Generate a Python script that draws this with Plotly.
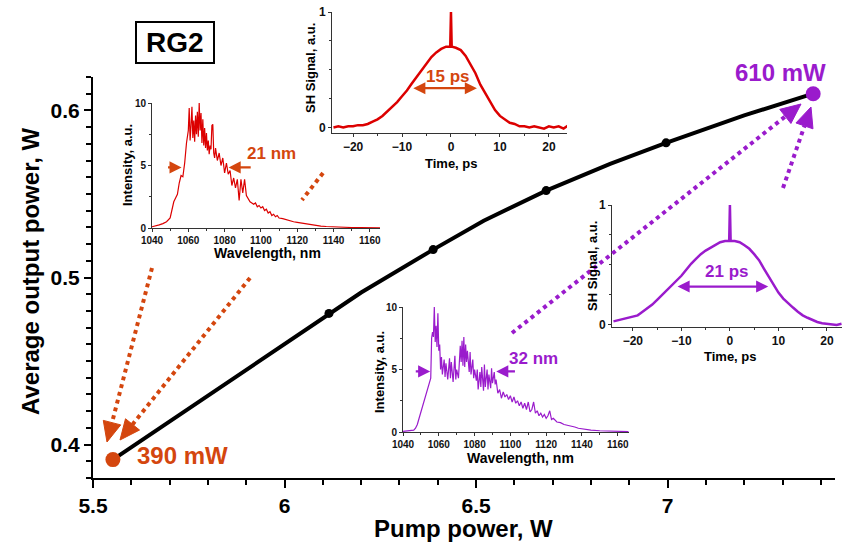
import math
import plotly.graph_objects as go

W, H = 842, 546
FONT = "Liberation Sans, Arial, sans-serif"
ORANGE = "#d4460e"
RED = "#dc0000"
PURPLE = "#9a1bcc"

# ---------------- main curve ----------------
pump_w = [5.552, 6.116, 6.2, 6.388, 6.52, 6.683, 6.85, 6.996, 7.2, 7.38]
output_w = [0.391, 0.4785, 0.491, 0.5167, 0.534, 0.552, 0.568, 0.5806, 0.597, 0.610]
dots_pump = [6.116, 6.388, 6.683, 6.996]
dots_out = [0.4785, 0.5167, 0.552, 0.5806]
start_pt = (5.552, 0.391)
end_pt = (7.38, 0.610)

# ---------------- spectrum, 390 mW (red) ----------------
wl_a = [1040, 1042, 1044, 1046, 1048, 1050, 1051, 1052, 1053, 1054, 1055, 1056, 1057, 1058, 1059, 1060,
        1060.5, 1061, 1061.5, 1062, 1062.5, 1063, 1063.5, 1064, 1064.5, 1065, 1065.5, 1066, 1066.5, 1067,
        1067.5, 1068, 1068.5, 1069, 1069.5, 1070, 1070.5, 1071, 1071.5, 1072, 1072.5, 1073, 1073.5, 1074,
        1074.5, 1075, 1076, 1077, 1078, 1079, 1080, 1081, 1082, 1083, 1084, 1085, 1086, 1087, 1088, 1089,
        1090, 1091, 1092, 1093, 1094, 1095, 1096, 1097, 1098, 1099, 1100, 1101, 1102, 1103, 1104, 1105,
        1106, 1107, 1108, 1109, 1110, 1112, 1114, 1116, 1118, 1120, 1122, 1124, 1126, 1128, 1130, 1133,
        1136, 1140, 1145, 1150, 1155, 1160, 1166]
int_a = [0.1, 0.15, 0.25, 0.35, 0.5, 0.8, 1.4, 2.1, 2.4, 2.7, 3.6, 4.2, 4.1, 5.2, 6.8, 7.8,
         9.6, 7.0, 8.2, 9.7, 7.2, 8.6, 6.9, 9.0, 7.5, 9.3, 7.3, 10.0, 7.8, 9.2,
         6.8, 8.7, 6.6, 8.0, 6.4, 7.6, 6.2, 7.0, 5.9, 6.6, 6.3, 8.2, 8.3, 6.0,
         5.6, 6.4, 5.4, 6.0, 5.0, 5.6, 4.4, 5.2, 4.3, 4.6, 3.4, 4.0, 3.2, 3.9, 2.2, 3.9,
         2.8, 3.9, 2.6, 2.3, 2.1, 2.0, 1.9, 2.0, 1.7, 1.8, 1.6, 1.7, 1.4, 1.5, 1.2, 1.3,
         1.0, 1.1, 0.9, 1.0, 0.8, 0.75, 0.65, 0.55, 0.5, 0.45, 0.4, 0.35, 0.3, 0.25, 0.2, 0.15,
         0.12, 0.08, 0.05, 0.04, 0.03, 0.02, 0.02]

# ---------------- spectrum, 610 mW (purple) ----------------
wl_b = [1040, 1042, 1044, 1046, 1047, 1048, 1049, 1050, 1051, 1052, 1053, 1054, 1055, 1055.5, 1056, 1056.5,
        1057, 1057.5, 1058, 1058.5, 1059, 1059.5, 1060, 1060.5, 1061, 1061.5, 1062, 1063, 1063.5, 1064,
        1065, 1066, 1066.5, 1067, 1068, 1069, 1069.5, 1070, 1071, 1071.5, 1072, 1072.5, 1073, 1073.5,
        1074, 1074.5, 1075, 1075.5, 1076, 1077, 1077.5, 1078, 1079, 1079.5, 1080, 1081, 1081.5, 1082,
        1083, 1083.5, 1084, 1085, 1085.5, 1086, 1087, 1087.5, 1088, 1089, 1089.5, 1090, 1091, 1091.5,
        1092, 1093, 1094, 1095, 1096, 1097, 1098, 1099, 1100, 1101, 1102, 1103, 1104, 1105, 1106, 1107,
        1108, 1109, 1110, 1111, 1112, 1113, 1114, 1115, 1116, 1117, 1118, 1119, 1120, 1121, 1122, 1123,
        1124, 1126, 1128, 1130, 1132, 1134, 1136, 1138, 1140, 1142, 1145, 1150, 1155, 1160, 1166]
int_b = [0.05, 0.08, 0.1, 0.15, 0.3, 0.6, 1.1, 1.6, 2.0, 2.5, 3.0, 3.6, 4.0, 4.3, 7.5, 8.0,
         7.6, 10.0, 7.2, 8.5, 6.8, 9.5, 6.5, 7.0, 5.0, 6.0, 4.6, 5.8, 4.4, 5.5,
         4.2, 5.9, 4.3, 5.6, 4.0, 6.1, 4.2, 5.0, 4.3, 5.8, 6.9, 5.6, 7.3, 5.3,
         7.6, 5.2, 7.0, 5.6, 6.5, 4.8, 6.4, 4.6, 5.8, 4.3, 5.0, 4.1, 5.0, 3.4,
         4.8, 3.6, 5.2, 3.3, 5.4, 3.6, 5.0, 3.4, 4.6, 3.5, 5.1, 3.9, 4.8, 3.8,
         4.2, 3.1, 3.4, 2.7, 3.2, 2.8, 3.0, 2.6, 2.9, 2.4, 2.8, 2.3, 2.5, 2.1, 2.4, 1.9,
         2.3, 1.8, 2.4, 1.6, 1.8, 2.4, 1.5, 1.7, 1.3, 1.5, 1.2, 1.4, 1.1, 1.3, 1.7, 1.0,
         1.1, 0.8, 0.75, 0.6, 0.55, 0.45, 0.4, 0.3, 0.25, 0.2, 0.15, 0.1, 0.06, 0.04, 0.03]

# ---------------- SH autocorrelation, 390 mW (red) ----------------
t_a = [-24, -23, -22, -21, -20, -19, -18, -17, -16, -15, -14, -13, -12, -11, -10, -9, -8, -7, -6, -5, -4,
       -3, -2, -1, -0.15, 0, 0.15, 1, 2, 3, 4, 5, 6, 7, 8, 9, 10, 11, 12, 13, 14, 15, 16, 17, 18, 19, 20,
       21, 22, 23, 24]
sh_a = [0.00, 0.01, 0.00, 0.01, 0.01, 0.02, 0.02, 0.03, 0.05, 0.07, 0.10, 0.14, 0.18, 0.22, 0.27, 0.32,
        0.38, 0.44, 0.50, 0.55, 0.61, 0.65, 0.68, 0.70, 0.70, 1.0, 0.70, 0.69, 0.67, 0.62, 0.55, 0.47,
        0.37, 0.30, 0.22, 0.15, 0.10, 0.07, 0.04, 0.03, 0.01, 0.01, 0.00, 0.01, 0.00, -0.01, 0.01, 0.00,
        0.01, -0.01, 0.02]

# ---------------- SH autocorrelation, 610 mW (purple) ----------------
t_b = [-24, -23, -22, -21, -20, -19, -18, -17, -16, -15, -14, -13, -12, -11, -10, -9, -8, -7, -6, -5, -4,
       -3, -2, -1, -0.15, 0, 0.15, 1, 2, 3, 4, 5, 6, 7, 8, 9, 10, 11, 12, 13, 14, 15, 16, 17, 18, 19, 20,
       21, 22, 23]
sh_b = [0.03, 0.04, 0.05, 0.055, 0.07, 0.08, 0.11, 0.14, 0.17, 0.21, 0.25, 0.29, 0.33, 0.37, 0.41, 0.46,
        0.51, 0.55, 0.59, 0.62, 0.645, 0.67, 0.69, 0.70, 0.70, 1.0, 0.70, 0.70, 0.69, 0.665, 0.635, 0.59,
        0.54, 0.47, 0.40, 0.33, 0.27, 0.22, 0.18, 0.145, 0.11, 0.08, 0.06, 0.04, 0.025, 0.015, 0.01,
        0.005, 0.0, 0.01]

x_ticks_main = [5.5, 6, 6.5, 7]
y_ticks_main = [0.4, 0.5, 0.6]


def px(x):
    return x / W


def py(y):
    return 1 - y / H


def dom_x(a, b):
    return [px(a), px(b)]


def dom_y(top, bottom):
    return [py(bottom), py(top)]


fig = go.Figure()

# main
fig.add_trace(go.Scatter(x=pump_w, y=output_w, mode="lines", line=dict(color="black", width=4),
                         xaxis="x", yaxis="y", hoverinfo="skip"))
fig.add_trace(go.Scatter(x=dots_pump, y=dots_out, mode="markers", marker=dict(color="black", size=9),
                         xaxis="x", yaxis="y"))
fig.add_trace(go.Scatter(x=[start_pt[0]], y=[start_pt[1]], mode="markers",
                         marker=dict(color=ORANGE, size=15), xaxis="x", yaxis="y"))
fig.add_trace(go.Scatter(x=[end_pt[0]], y=[end_pt[1]], mode="markers",
                         marker=dict(color=PURPLE, size=15), xaxis="x", yaxis="y"))

# insets
fig.add_trace(go.Scatter(x=wl_a, y=int_a, mode="lines", line=dict(color=RED, width=1.2),
                         xaxis="x2", yaxis="y2"))
fig.add_trace(go.Scatter(x=t_a, y=sh_a, mode="lines", line=dict(color=RED, width=2.5),
                         xaxis="x3", yaxis="y3"))
fig.add_trace(go.Scatter(x=t_b, y=sh_b, mode="lines", line=dict(color=PURPLE, width=2.5),
                         xaxis="x4", yaxis="y4"))
fig.add_trace(go.Scatter(x=wl_b, y=int_b, mode="lines", line=dict(color=PURPLE, width=1.2),
                         xaxis="x5", yaxis="y5"))

main_tick_font = dict(family=FONT, size=21, color="black", weight="bold")


def inset_axis(domain, rng, anchor, tick_size, **kw):
    d = dict(domain=domain, range=rng, anchor=anchor, showline=True, linecolor="#333", linewidth=1,
             ticks="outside", ticklen=3, tickwidth=1, tickcolor="#333", showgrid=False, zeroline=False,
             automargin=False, tickfont=dict(family=FONT, size=tick_size, color="#111", weight="bold"))
    d.update(kw)
    return d


fig.update_layout(
    width=W, height=H, margin=dict(l=0, r=0, t=0, b=0),
    paper_bgcolor="white", plot_bgcolor="rgba(0,0,0,0)", showlegend=False,
    xaxis=dict(domain=dom_x(93, 835), range=[5.5, 7.437], anchor="y", showline=True, linecolor="black",
               linewidth=2, ticks="outside", ticklen=8, tickwidth=2, tickcolor="black",
               tickvals=x_ticks_main, ticktext=["5.5", "6", "6.5", "7"],
               minor=dict(dtick=0.1, tick0=5.5, ticklen=5, tickwidth=2, tickcolor="black", ticks="outside"),
               showgrid=False, zeroline=False, automargin=False, tickfont=main_tick_font),
    yaxis=dict(domain=dom_y(77, 478), range=[0.38, 0.62], anchor="x", showline=True, linecolor="black",
               linewidth=2, ticks="outside", ticklen=7, tickwidth=2, tickcolor="black",
               tickvals=y_ticks_main, ticktext=["0.4", "0.5", "0.6"],
               minor=dict(dtick=0.01, tick0=0.38, ticklen=5, tickwidth=2, tickcolor="black", ticks="outside"),
               showgrid=False, zeroline=False, automargin=False, tickfont=main_tick_font),
    xaxis2=inset_axis(dom_x(152, 380), [1040, 1165.6], "y2", 10, dtick=20, tick0=1040,
                      minor=dict(dtick=10, ticklen=2, ticks="outside", tickcolor="#333")),
    yaxis2=inset_axis(dom_y(103, 228), [0, 10], "x2", 10, dtick=5, tick0=0,
                      minor=dict(dtick=2.5, ticklen=2, ticks="outside", tickcolor="#333")),
    xaxis3=inset_axis(dom_x(332, 567), [-24.3, 23.7], "y3", 12, dtick=10, tick0=0,
                      minor=dict(dtick=5, ticklen=2, ticks="outside", tickcolor="#333")),
    yaxis3=inset_axis(dom_y(12, 133), [-0.048, 1], "x3", 12, dtick=1, tick0=0,
                      minor=dict(dtick=0.25, ticklen=2, ticks="outside", tickcolor="#333")),
    xaxis4=inset_axis(dom_x(612, 842), [-24.3, 23.1], "y4", 12, dtick=10, tick0=0,
                      minor=dict(dtick=5, ticklen=2, ticks="outside", tickcolor="#333")),
    yaxis4=inset_axis(dom_y(205, 327), [-0.017, 1], "x4", 12, dtick=1, tick0=0,
                      minor=dict(dtick=0.25, ticklen=2, ticks="outside", tickcolor="#333")),
    xaxis5=inset_axis(dom_x(403, 629), [1040, 1166.3], "y5", 10, dtick=20, tick0=1040,
                      minor=dict(dtick=10, ticklen=2, ticks="outside", tickcolor="#333")),
    yaxis5=inset_axis(dom_y(307, 432), [0, 10], "x5", 10, dtick=5, tick0=0,
                      minor=dict(dtick=2.5, ticklen=2, ticks="outside", tickcolor="#333")),
)

ann = []


def label(x, y, text, size, color="black", angle=0):
    ann.append(dict(x=px(x), y=py(y), xref="paper", yref="paper", text=text, showarrow=False,
                    textangle=angle, xanchor="center", yanchor="middle",
                    font=dict(family=FONT, size=size, color=color, weight="bold")))


label(464, 528, "Pump power, W", 24)
label(30, 272, "Average output power, W", 24, angle=-90)
label(175, 43, "RG2", 28)
label(182, 455, "390 mW", 24, ORANGE)
label(780, 73, "610 mW", 24, PURPLE)
label(127, 165, "Intensity, a.u.", 13, angle=-90)
label(267, 253, "Wavelength, nm", 14)
label(310, 68, "SH Signal, a.u.", 13, angle=-90)
label(451, 163, "Time, ps", 13)
label(592, 266, "SH Signal, a.u.", 13, angle=-90)
label(730, 356, "Time, ps", 13)
label(379, 372, "Intensity, a.u.", 13, angle=-90)
label(520, 458, "Wavelength, nm", 14)


def data_arrow(xa, ya, x, y, ax, color, both=False):
    d = dict(x=x, y=y, ax=ax, ay=y, xref=xa, yref=ya, axref=xa, ayref=ya, text="", showarrow=True,
             arrowhead=2, arrowsize=1.1, arrowwidth=2.2, arrowcolor=color)
    if both:
        d["arrowside"] = "end+start"
        d["startarrowhead"] = 2
        d["startarrowsize"] = 1.1
    ann.append(d)


def data_text(xa, ya, x, y, text, color, size=17):
    ann.append(dict(x=x, y=y, xref=xa, yref=ya, text=text, showarrow=False,
                    font=dict(family=FONT, size=size, color=color, weight="bold")))


# FWHM markers
data_arrow("x2", "y2", 1056.3, 4.85, 1048, ORANGE)
data_arrow("x2", "y2", 1082.2, 4.85, 1095.2, ORANGE)
data_text("x2", "y2", 1105.6, 5.97, "21 nm", ORANGE)
data_arrow("x5", "y5", 1055.2, 4.85, 1046.3, PURPLE)
data_arrow("x5", "y5", 1092.1, 4.85, 1103.4, PURPLE)
data_text("x5", "y5", 1113, 5.87, "32 nm", PURPLE)
data_arrow("x3", "y3", 5.3, 0.34, -8, ORANGE, both=True)
data_text("x3", "y3", -0.8, 0.445, "15 ps", ORANGE)
data_arrow("x4", "y4", 7.9, 0.32, -11.1, PURPLE, both=True)
data_text("x4", "y4", -0.7, 0.444, "21 ps", PURPLE)

fig.update_layout(annotations=ann)

shapes = [dict(type="rect", xref="paper", yref="paper", x0=px(136), y0=py(63), x1=px(214), y1=py(22),
               line=dict(color="black", width=2))]


def dotted_arrow(x0, y0, x1, y1, color, head=True, L=20, hw=9):
    dx, dy = x1 - x0, y1 - y0
    n = math.hypot(dx, dy)
    ux, uy = dx / n, dy / n
    bx, by = (x1 - L * ux, y1 - L * uy) if head else (x1, y1)
    shapes.append(dict(type="line", xref="paper", yref="paper", x0=px(x0), y0=py(y0), x1=px(bx), y1=py(by),
                       line=dict(color=color, width=4, dash="dot")))
    if head:
        nx, ny = -uy, ux
        path = (f"M {px(x1)} {py(y1)} L {px(bx + hw * nx)} {py(by + hw * ny)} "
                f"L {px(bx - hw * nx)} {py(by - hw * ny)} Z")
        shapes.append(dict(type="path", xref="paper", yref="paper", path=path, fillcolor=color,
                           line=dict(color=color, width=1)))


dotted_arrow(152, 268, 107, 442, ORANGE)
dotted_arrow(250, 278, 120, 440, ORANGE)
dotted_arrow(323, 173, 302, 200, ORANGE, head=False)
dotted_arrow(512, 333, 801, 104, PURPLE)
dotted_arrow(783, 188, 811, 107, PURPLE)

fig.update_layout(shapes=shapes)

fig.write_html("out.html", config={"displayModeBar": False},
               post_script="document.body.style.margin='0px';")
